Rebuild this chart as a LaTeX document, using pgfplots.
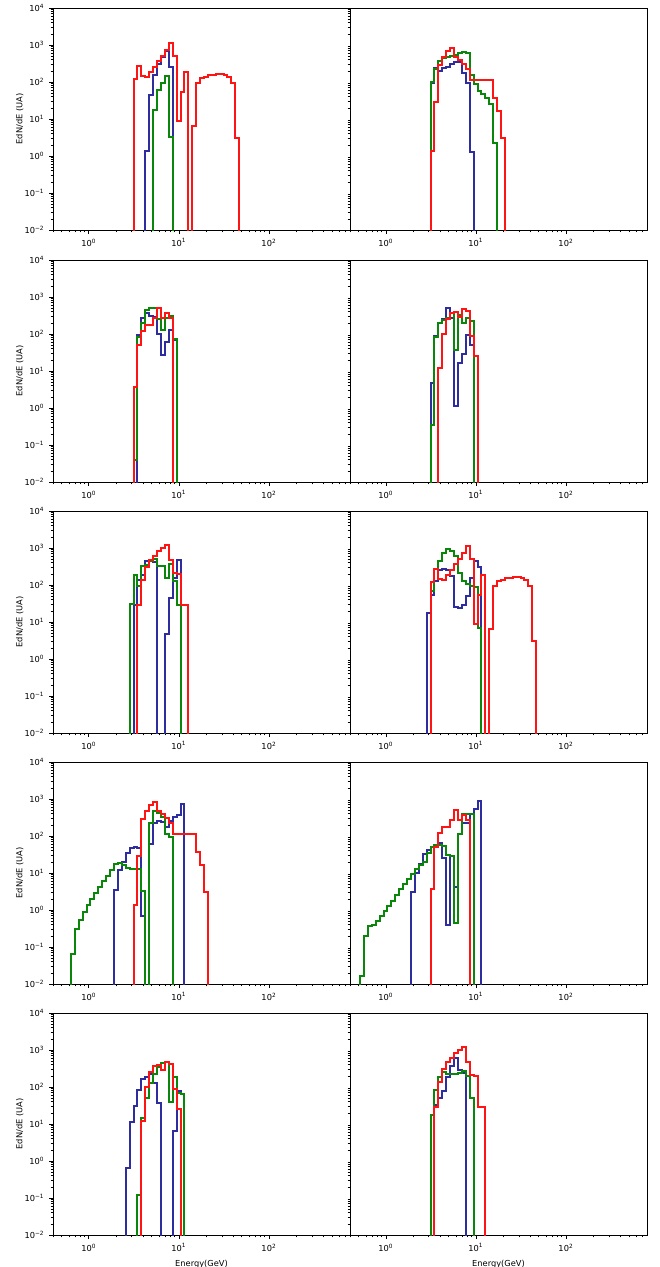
\documentclass[border=0pt]{standalone}
\usepackage{fontspec}
\setmainfont{DejaVu Sans}
\usepackage{pgfplots}
\usepackage{pgfplotstable}
\pgfplotsset{compat=1.18}
\definecolor{cblue}{RGB}{45,45,160}
\definecolor{cgreen}{RGB}{10,135,10}
\definecolor{cred}{RGB}{255,20,20}

% ---------- red spectra (each used in two panels) ----------
\pgfplotstableread{
E v
3.1367 1e-3
3.1367 120
3.4670 270
3.8320 145
4.2355 135
4.6814 190
5.1743 250
5.7191 370
6.3213 500
6.9868 750
7.7224 1100
8.5355 500
9.4342 9
10.429 55
11.527 190
12.741 1e-3
14.082 6.5
15.565 95
17.204 125
19.015 140
21.017 150
23.230 158
25.676 160
28.379 165
31.367 150
34.670 140
38.320 95
42.355 3
46.814 1e-3
}\tabRedA
\pgfplotstableread{
E v
3.1367 1e-3
3.1367 1.4
3.4670 28
3.8320 280
4.2355 480
4.6814 700
5.1743 850
5.7191 480
6.3213 400
6.9868 300
7.7224 220
8.5355 112
9.4342 112
10.429 112
11.527 115
12.741 115
14.082 115
15.565 37
17.204 16
19.015 3
21.017 1e-3
}\tabRedB
\pgfplotstableread{
E v
3.1367 1e-3
3.1367 3.6
3.4670 50
3.8320 120
4.2355 170
4.6814 175
5.1743 270
5.7191 500
6.3213 270
6.9868 360
7.7224 270
8.5355 1e-3
}\tabRedC
\pgfplotstableread{
E v
3.8320 1e-3
3.8320 12
4.2355 100
4.6814 260
5.1743 380
5.7191 400
6.3213 280
6.9868 480
7.7224 420
8.5355 90
9.4342 25
10.429 1e-3
}\tabRedD
\pgfplotstableread{
E v
3.4670 1e-3
3.4670 28
3.8320 140
4.2355 310
4.6814 480
5.1743 620
5.7191 850
6.3213 1000
6.9868 1200
7.7224 470
8.5355 210
9.4342 200
10.429 28
11.527 28
12.741 1e-3
}\tabRedE

% ---------- blue spectra ----------
\pgfplotstableread{
E v
4.2355 1e-3
4.2355 1.4
4.6814 45
5.1743 150
5.7191 300
6.3213 480
6.9868 680
7.7224 250
8.5355 1e-3
}\tabBluePa
\pgfplotstableread{
E v
3.1367 1e-3
3.1367 95
3.4670 235
3.8320 200
4.2355 235
4.6814 260
5.1743 310
5.7191 350
6.3213 340
6.9868 180
7.7224 95
8.5355 1.3
9.4342 1e-3
}\tabBluePb
\pgfplotstableread{
E v
3.4670 1e-3
3.4670 94
3.8320 270
4.2355 360
4.6814 300
5.1743 280
5.7191 100
6.3213 27
6.9868 60
7.7224 125
8.5355 69
9.4342 1e-3
}\tabBluePc
\pgfplotstableread{
E v
3.1367 1e-3
3.1367 4.6
3.4670 90
3.8320 200
4.2355 250
4.6814 520
5.1743 270
5.7191 1.1
6.3213 16
6.9868 28
7.7224 95
8.5355 50
9.4342 1e-3
}\tabBluePd
\pgfplotstableread{
E v
3.1367 1e-3
3.1367 29
3.4670 140
3.8320 190
4.2355 450
4.6814 480
5.1743 420
5.7191 1e-3
6.3213 1e-3
6.9868 4.6
7.7224 45
8.5355 150
9.4342 470
10.429 1e-3
}\tabBluePe
\pgfplotstableread{
E v
2.8379 1e-3
2.8379 17
3.1367 55
3.4670 130
3.8320 250
4.2355 270
4.6814 260
5.1743 170
5.7191 26
6.3213 24
6.9868 28
7.7224 50
8.5355 150
9.4342 450
10.429 300
11.527 1e-3
}\tabBluePf
\pgfplotstableread{
E v
1.9015 1e-3
1.9015 3.5
2.1017 12
2.3230 20
2.5676 35
2.8379 48
3.1367 52
3.4670 46
3.8320 0.7
4.2355 1e-3
4.6814 60
5.1743 230
5.7191 250
6.3213 240
6.9868 180
7.7224 260
8.5355 320
9.4342 380
10.429 750
11.527 1e-3
}\tabBluePg
\pgfplotstableread{
E v
1.9015 1e-3
1.9015 3
2.1017 10
2.3230 18
2.5676 32
2.8379 42
3.1367 50
3.4670 58
3.8320 63
4.2355 25
4.6814 0.4
5.1743 28
5.7191 4.2
6.3213 115
6.9868 220
7.7224 230
8.5355 400
9.4342 550
10.429 900
11.527 1e-3
}\tabBluePh
\pgfplotstableread{
E v
2.5676 1e-3
2.5676 0.65
2.8379 11
3.1367 30
3.4670 85
3.8320 160
4.2355 190
4.6814 220
5.1743 130
5.7191 38
6.3213 1e-3
6.9868 1e-3
7.7224 1e-3
8.5355 6.5
9.4342 80
10.429 65
11.527 1e-3
}\tabBluePi
\pgfplotstableread{
E v
3.4670 1e-3
3.4670 32
3.8320 50
4.2355 80
4.6814 190
5.1743 380
5.7191 620
6.3213 280
6.9868 240
7.7224 1e-3
}\tabBluePj

% ---------- green spectra ----------
\pgfplotstableread{
E v
5.1743 1e-3
5.1743 18
5.7191 60
6.3213 95
6.9868 145
7.7224 3.2
8.5355 1e-3
}\tabGreenPa
\pgfplotstableread{
E v
3.1367 1e-3
3.1367 100
3.4670 220
3.8320 360
4.2355 450
4.6814 470
5.1743 500
5.7191 550
6.3213 620
6.9868 640
7.7224 600
8.5355 150
9.4342 88
10.429 56
11.527 48
12.741 38
14.082 25
15.565 2.2
17.204 1e-3
}\tabGreenPb
\pgfplotstableread{
E v
3.1367 1e-3
3.1367 0.04
3.4670 85
3.8320 200
4.2355 450
4.6814 500
5.1743 520
5.7191 250
6.3213 130
6.9868 270
7.7224 300
8.5355 75
9.4342 1e-3
}\tabGreenPc
\pgfplotstableread{
E v
3.1367 1e-3
3.1367 0.35
3.4670 85
3.8320 200
4.2355 240
4.6814 270
5.1743 380
5.7191 37
6.3213 330
6.9868 200
7.7224 270
8.5355 230
9.4342 1e-3
}\tabGreenPd
\pgfplotstableread{
E v
2.8379 1e-3
2.8379 31
3.1367 190
3.4670 95
3.8320 320
4.2355 350
4.6814 450
5.1743 500
5.7191 330
6.3213 330
6.9868 150
7.7224 370
8.5355 125
9.4342 29
10.429 1e-3
}\tabGreenPe
\pgfplotstableread{
E v
3.1367 1e-3
3.1367 70
3.4670 270
3.8320 450
4.2355 750
4.6814 950
5.1743 820
5.7191 600
6.3213 210
6.9868 130
7.7224 105
8.5355 95
9.4342 88
10.429 7
11.527 1e-3
}\tabGreenPf
\pgfplotstableread{
E v
0.6322 1e-3
0.6322 0.066
0.6988 0.3
0.7724 0.55
0.8537 0.9
0.9436 1.4
1.0429 2.0
1.1527 2.9
1.2741 4.2
1.4082 6.0
1.5565 8.5
1.7204 12
1.9015 17
2.1017 19
2.3230 16
2.5676 14
2.8379 13
3.1367 12.5
3.4670 12.5
3.8320 3.2
4.2355 1e-3
4.6814 225
5.1743 470
5.7191 430
6.3213 330
6.9868 115
7.7224 95
8.5355 1e-3
}\tabGreenPg
\pgfplotstableread{
E v
0.5175 1e-3
0.5175 0.016
0.5720 0.2
0.6322 0.38
0.6988 0.4
0.7724 0.5
0.8537 0.7
0.9436 0.95
1.0429 1.3
1.1527 1.8
1.2741 2.6
1.4082 3.6
1.5565 5.0
1.7204 7.0
1.9015 9.5
2.1017 13
2.3230 16
2.5676 20
2.8379 35
3.1367 50
3.4670 58
3.8320 58
4.2355 55
4.6814 30
5.1743 28
5.7191 0.45
6.3213 110
6.9868 400
7.7224 400
8.5355 400
9.4342 1e-3
}\tabGreenPh
\pgfplotstableread{
E v
3.4670 1e-3
3.4670 0.12
3.8320 15
4.2355 50
4.6814 130
5.1743 230
5.7191 350
6.3213 450
6.9868 460
7.7224 40
8.5355 190
9.4342 70
10.429 65
11.527 1e-3
}\tabGreenPi
\pgfplotstableread{
E v
3.1367 1e-3
3.1367 18
3.4670 85
3.8320 190
4.2355 250
4.6814 230
5.1743 220
5.7191 230
6.3213 240
6.9868 270
7.7224 200
8.5355 52
9.4342 1e-3
}\tabGreenPj

\pgfplotsset{
  every axis/.append style={
    scale only axis, width=222.75pt, height=166.5pt, anchor=north west,
    xmin=0.4, xmax=795, ymin=1e-2, ymax=1e4,
    xtick={1,10,100},
    xticklabels={10\textsuperscript{0},10\textsuperscript{1},10\textsuperscript{2}},
    minor xtick={0.4,0.5,0.6,0.7,0.8,0.9,2,3,4,5,6,7,8,9,20,30,40,50,60,70,80,90,200,300,400,500,600,700},
    ytick={1e-2,1e-1,1,10,100,1000,10000},
    yticklabels={10\textsuperscript{−2},10\textsuperscript{−1},10\textsuperscript{0},10\textsuperscript{1},10\textsuperscript{2},10\textsuperscript{3},10\textsuperscript{4}},
    minor ytick={0.02,0.03,0.04,0.05,0.06,0.07,0.08,0.09,0.2,0.3,0.4,0.5,0.6,0.7,0.8,0.9,2,3,4,5,6,7,8,9,20,30,40,50,60,70,80,90,200,300,400,500,600,700,800,900,2000,3000,4000,5000,6000,7000,8000,9000},
    tick align=outside, xtick pos=left, ytick pos=left,
    major tick length=3pt, minor tick length=1.7pt,
    tick style={black, line width=0.5pt},
    tick label style={font=\fontsize{6.2}{7}\selectfont},
    xlabel style={font=\fontsize{6.2}{7}\selectfont},
    ylabel style={font=\fontsize{6.2}{7}\selectfont, yshift=-6pt},
    axis line style={line width=0.6pt},
  },
}

\begin{document}
\begin{tikzpicture}
% row 1
\begin{loglogaxis}[at={(0pt,0pt)}, ylabel={EdN/dE (UA)}]
\addplot[cblue, const plot mark left, mark=none, line width=1.5pt] table[x=E,y=v]{\tabBluePa};
\addplot[cgreen, const plot mark left, mark=none, line width=1.5pt] table[x=E,y=v]{\tabGreenPa};
\addplot[cred, const plot mark left, mark=none, line width=1.5pt] table[x=E,y=v]{\tabRedA};
\end{loglogaxis}
\begin{loglogaxis}[at={(222.75pt,0pt)}, ymajorticks=false, yminorticks=false]
\addplot[cblue, const plot mark left, mark=none, line width=1.5pt] table[x=E,y=v]{\tabBluePb};
\addplot[cgreen, const plot mark left, mark=none, line width=1.5pt] table[x=E,y=v]{\tabGreenPb};
\addplot[cred, const plot mark left, mark=none, line width=1.5pt] table[x=E,y=v]{\tabRedB};
\end{loglogaxis}
% row 2
\begin{loglogaxis}[at={(0pt,-189pt)}, ylabel={EdN/dE (UA)}]
\addplot[cblue, const plot mark left, mark=none, line width=1.5pt] table[x=E,y=v]{\tabBluePc};
\addplot[cgreen, const plot mark left, mark=none, line width=1.5pt] table[x=E,y=v]{\tabGreenPc};
\addplot[cred, const plot mark left, mark=none, line width=1.5pt] table[x=E,y=v]{\tabRedC};
\end{loglogaxis}
\begin{loglogaxis}[at={(222.75pt,-189pt)}, ymajorticks=false, yminorticks=false]
\addplot[cblue, const plot mark left, mark=none, line width=1.5pt] table[x=E,y=v]{\tabBluePd};
\addplot[cgreen, const plot mark left, mark=none, line width=1.5pt] table[x=E,y=v]{\tabGreenPd};
\addplot[cred, const plot mark left, mark=none, line width=1.5pt] table[x=E,y=v]{\tabRedD};
\end{loglogaxis}
% row 3
\begin{loglogaxis}[at={(0pt,-377.25pt)}, ylabel={EdN/dE (UA)}]
\addplot[cblue, const plot mark left, mark=none, line width=1.5pt] table[x=E,y=v]{\tabBluePe};
\addplot[cgreen, const plot mark left, mark=none, line width=1.5pt] table[x=E,y=v]{\tabGreenPe};
\addplot[cred, const plot mark left, mark=none, line width=1.5pt] table[x=E,y=v]{\tabRedE};
\end{loglogaxis}
\begin{loglogaxis}[at={(222.75pt,-377.25pt)}, ymajorticks=false, yminorticks=false]
\addplot[cblue, const plot mark left, mark=none, line width=1.5pt] table[x=E,y=v]{\tabBluePf};
\addplot[cgreen, const plot mark left, mark=none, line width=1.5pt] table[x=E,y=v]{\tabGreenPf};
\addplot[cred, const plot mark left, mark=none, line width=1.5pt] table[x=E,y=v]{\tabRedA};
\end{loglogaxis}
% row 4
\begin{loglogaxis}[at={(0pt,-565.5pt)}, ylabel={EdN/dE (UA)}]
\addplot[cblue, const plot mark left, mark=none, line width=1.5pt] table[x=E,y=v]{\tabBluePg};
\addplot[cgreen, const plot mark left, mark=none, line width=1.5pt] table[x=E,y=v]{\tabGreenPg};
\addplot[cred, const plot mark left, mark=none, line width=1.5pt] table[x=E,y=v]{\tabRedB};
\end{loglogaxis}
\begin{loglogaxis}[at={(222.75pt,-565.5pt)}, ymajorticks=false, yminorticks=false]
\addplot[cblue, const plot mark left, mark=none, line width=1.5pt] table[x=E,y=v]{\tabBluePh};
\addplot[cgreen, const plot mark left, mark=none, line width=1.5pt] table[x=E,y=v]{\tabGreenPh};
\addplot[cred, const plot mark left, mark=none, line width=1.5pt] table[x=E,y=v]{\tabRedC};
\end{loglogaxis}
% row 5
\begin{loglogaxis}[at={(0pt,-753.75pt)}, ylabel={EdN/dE (UA)}, xlabel={Energy(GeV)}]
\addplot[cblue, const plot mark left, mark=none, line width=1.5pt] table[x=E,y=v]{\tabBluePi};
\addplot[cgreen, const plot mark left, mark=none, line width=1.5pt] table[x=E,y=v]{\tabGreenPi};
\addplot[cred, const plot mark left, mark=none, line width=1.5pt] table[x=E,y=v]{\tabRedD};
\end{loglogaxis}
\begin{loglogaxis}[at={(222.75pt,-753.75pt)}, ymajorticks=false, yminorticks=false, xlabel={Energy(GeV)}]
\addplot[cblue, const plot mark left, mark=none, line width=1.5pt] table[x=E,y=v]{\tabBluePj};
\addplot[cgreen, const plot mark left, mark=none, line width=1.5pt] table[x=E,y=v]{\tabGreenPj};
\addplot[cred, const plot mark left, mark=none, line width=1.5pt] table[x=E,y=v]{\tabRedE};
\end{loglogaxis}
\pgfresetboundingbox
\path (-39.75pt,6pt) rectangle (455.25pt,-944.25pt);
\end{tikzpicture}
\end{document}
